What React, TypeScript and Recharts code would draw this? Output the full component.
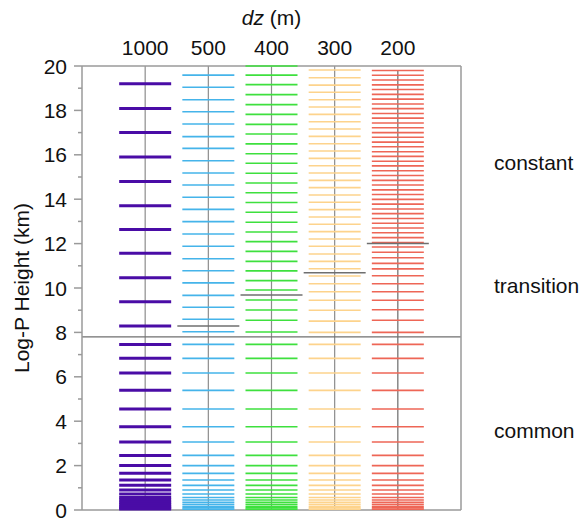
import React from 'react';
import { ScatterChart, Scatter, XAxis, YAxis, ReferenceLine, Label } from 'recharts';

// column order on the top axis, dz in metres
const columnLabels = ['1000', '500', '400', '300', '200'];
const columnColors = ['#4a0ca6', '#45b4ea', '#3ee03e', '#fdd38c', '#ee6656'];

// levels shared by every column (km)
const commonLevels = [7.46, 6.83, 6.17, 5.39, 4.55, 3.75, 3.06, 2.46, 2.0, 1.65, 1.35, 1.11, 0.9, 0.72, 0.56, 0.45, 0.35, 0.26, 0.17, 0.1, 0.04];

// levels above the common region, one list per column (km)
const upper1000 = [8.29, 9.38, 10.46, 11.56, 12.64, 13.7, 14.8, 15.9, 17.0, 18.09, 19.2];
const upper500 = [8.03, 8.59, 9.13, 9.67, 10.23, 10.78, 11.32, 11.88, 12.43, 12.99, 13.54, 14.09, 14.64, 15.18, 15.73, 16.29, 16.82, 17.39, 17.94, 18.48, 19.04, 19.59];
const upper400 = [8.02, 8.55, 9.01, 9.46, 9.91, 10.33, 10.77, 11.2, 11.65, 12.09, 12.52, 12.96, 13.41, 13.85, 14.29, 14.73, 15.17, 15.62, 16.05, 16.49, 16.94, 17.37, 17.82, 18.26, 18.71, 19.16, 19.59, 20.0];
const upper300 = [8.0, 8.51, 9.0, 9.45, 9.83, 10.19, 10.54, 10.87, 11.2, 11.53, 11.88, 12.21, 12.54, 12.87, 13.2, 13.53, 13.86, 14.19, 14.52, 14.85, 15.18, 15.51, 15.84, 16.17, 16.5, 16.83, 17.16, 17.49, 17.82, 18.15, 18.48, 18.82, 19.14, 19.47, 19.82];
const upper200 = [8.0, 8.55, 9.02, 9.45, 9.83, 10.19, 10.55, 10.86, 11.11, 11.36, 11.61, 11.85, 12.05, 12.27, 12.49, 12.7, 12.92, 13.13, 13.35, 13.56, 13.78, 13.99, 14.21, 14.42, 14.64, 14.85, 15.07, 15.28, 15.5, 15.71, 15.93, 16.14, 16.36, 16.57, 16.79, 17.0, 17.22, 17.43, 17.65, 17.86, 18.08, 18.29, 18.51, 18.72, 18.94, 19.15, 19.37, 19.58, 19.8];
const upperLevels = [upper1000, upper500, upper400, upper300, upper200];

// where each column stops following the constant dz (columns 500..200)
const transitionCols = [2, 3, 4, 5];
const transitionHeights = [8.29, 9.68, 10.69, 12.0];
const commonTop = 7.8;
const columnTops = [20, 20, 20, 20, 19.8];
const columnAxisColors = ['#8c8c8c', '#8c8c8c', '#8c8c8c', '#8c8c8c', '#6a6a6a'];

const regionNames = ['constant', 'transition', 'common'];
const regionHeights = [15.63, 10.09, 3.56];

const yTicks = [0, 1, 2, 3, 4, 5, 6, 7, 8, 9, 10, 11, 12, 13, 14, 15, 16, 17, 18, 19, 20];
const xTicks = [1, 2, 3, 4, 5];

const AXIS = '#9a9a9a';
const TEXT = '#111';
const FS = 21;

const LeftTick = (props: any) => {
  const { x, y, payload } = props;
  const v = payload.value;
  const ax = x + 15;
  const len = v % 2 === 0 ? 8 : 4;
  return (
    <g>
      <line x1={ax - len} x2={ax} y1={y} y2={y} stroke={AXIS} strokeWidth={1.5} />
      {v % 2 === 0 && (
        <text x={x} y={y} dy="0.36em" textAnchor="end" fontSize={FS} fill={TEXT}>{v}</text>
      )}
    </g>
  );
};

const RightTick = (props: any) => {
  const { x, y, payload } = props;
  const len = payload.value % 2 === 0 ? 9 : 5;
  return <line x1={x} x2={x + len} y1={y} y2={y} stroke={AXIS} strokeWidth={1.5} />;
};

const TopTick = (props: any) => {
  const { x, y, payload } = props;
  return (
    <text x={x} y={y} textAnchor="middle" fontSize={FS} fill={TEXT}>{columnLabels[payload.value - 1]}</text>
  );
};

const levelShape = (color: string, width: number) => (props: any) => {
  const { cx, cy } = props;
  return <line x1={cx - 26} x2={cx + 26} y1={cy} y2={cy} stroke={color} strokeWidth={width} />;
};

const markerShape = (props: any) => {
  const { cx, cy } = props;
  return <line x1={cx - 31} x2={cx + 31} y1={cy} y2={cy} stroke="#6f6f6f" strokeWidth={1.5} />;
};

export default function App() {
  const columns = upperLevels.map((up, i) => [...commonLevels, ...up].map(h => ({ col: i + 1, h })));
  const markers = transitionCols.map((c, i) => ({ col: c, h: transitionHeights[i] }));

  return (
    <div style={{ position: 'absolute', left: 0, top: 0, fontFamily: '"Liberation Sans", Arial, sans-serif' }}>
      <ScatterChart width={582} height={521} margin={{ top: 0, right: 0, bottom: 0, left: 0 }}>
        <XAxis xAxisId="top" orientation="top" type="number" dataKey="col" domain={[0, 6]} ticks={xTicks} interval={0}
          height={66} tickSize={0} tickMargin={11} tickLine={false} tick={<TopTick />} axisLine={{ stroke: AXIS, strokeWidth: 1.5 }}>
          <Label content={(p: any) => {
            const vb = p.viewBox;
            return (
              <text x={vb.x + vb.width / 2} y={vb.y + 25} textAnchor="middle" fontSize={FS} fill={TEXT}>
                <tspan fontStyle="italic">dz</tspan> (m)
              </text>
            );
          }} />
        </XAxis>
        <XAxis xAxisId="bottom" orientation="bottom" type="number" dataKey="col" domain={[0, 6]} height={11}
          tick={false} tickLine={false} axisLine={{ stroke: AXIS, strokeWidth: 1.5 }} />
        <YAxis yAxisId="left" orientation="left" type="number" dataKey="h" domain={[0, 20]} ticks={yTicks} interval={0}
          width={82} tickSize={0} tickMargin={15} tickLine={false} tick={<LeftTick />} axisLine={{ stroke: AXIS, strokeWidth: 1.5 }}>
          <Label content={(p: any) => {
            const vb = p.viewBox;
            const cy = vb.y + vb.height / 2;
            return (
              <text x={29} y={cy} transform={`rotate(-90, 29, ${cy})`} textAnchor="middle" fontSize={FS} fill={TEXT}>
                Log-P Height (km)
              </text>
            );
          }} />
        </YAxis>
        <YAxis yAxisId="right" orientation="right" type="number" dataKey="h" domain={[0, 20]} ticks={yTicks} interval={0}
          width={121} tickSize={0} tickMargin={0} tickLine={false} tick={<RightTick />} axisLine={{ stroke: AXIS, strokeWidth: 1.5 }} />

        {columnTops.map((top, i) => (
          <ReferenceLine key={`v${i}`} xAxisId="top" yAxisId="left" segment={[{ x: i + 1, y: 0 }, { x: i + 1, y: top }]}
            stroke={columnAxisColors[i]} strokeWidth={1.2} />
        ))}

        {columns.map((data, i) => (
          <Scatter key={columnLabels[i]} xAxisId="top" yAxisId="left" data={data} isAnimationActive={false}
            shape={levelShape(columnColors[i], i === 0 ? 3 : 1.6)} />
        ))}

        <ReferenceLine xAxisId="top" yAxisId="left" y={commonTop} stroke="#6f6f6f" strokeWidth={1.3} />
        <Scatter xAxisId="top" yAxisId="left" data={markers} isAnimationActive={false} shape={markerShape} />

        {regionNames.map((name, i) => (
          <ReferenceLine key={name} xAxisId="top" yAxisId="left" y={regionHeights[i]} stroke="none"
            label={{ value: name, position: 'right', offset: 33, fontSize: FS, fill: TEXT }} />
        ))}
      </ScatterChart>
    </div>
  );
}
